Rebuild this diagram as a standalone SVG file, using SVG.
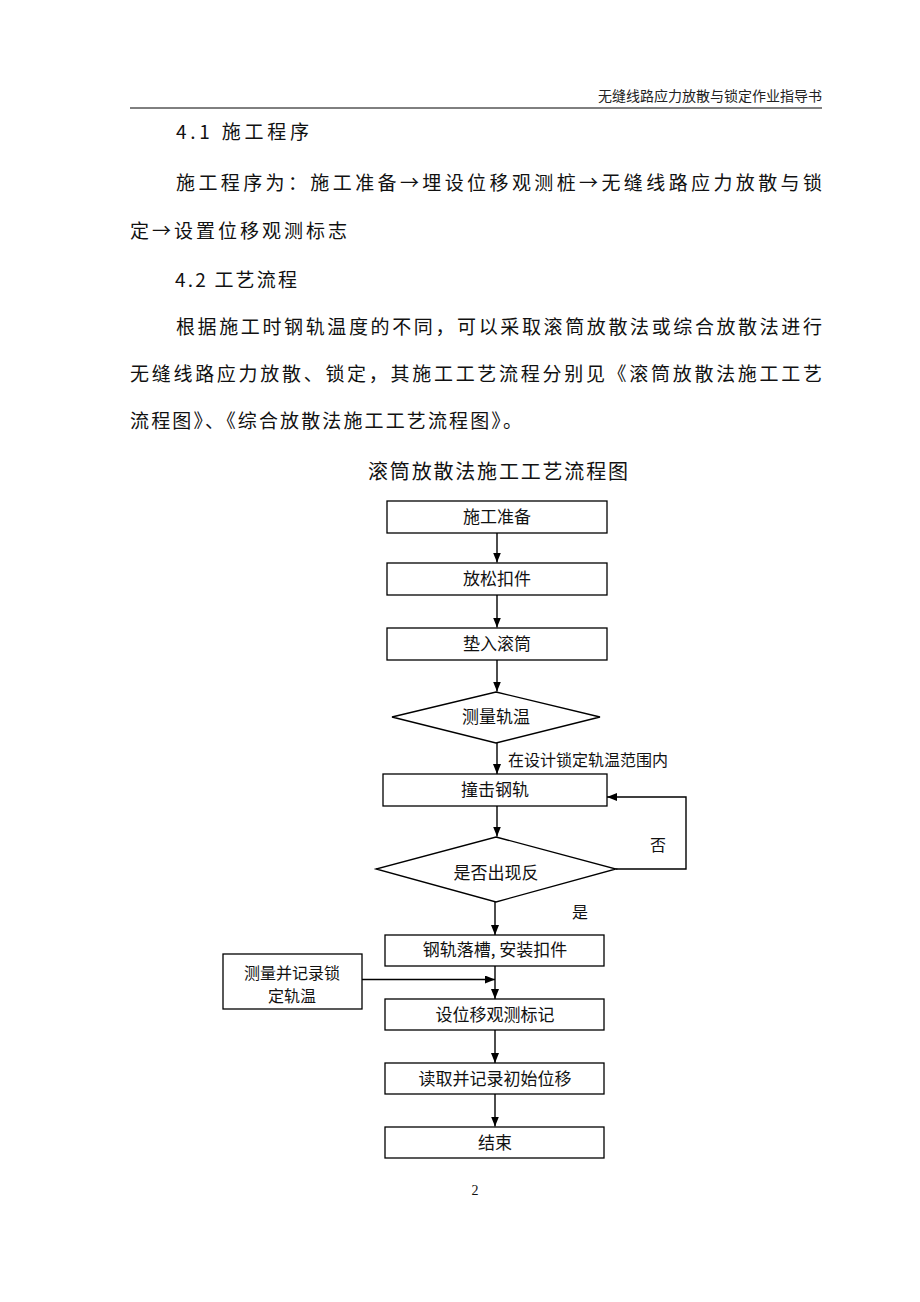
<svg xmlns="http://www.w3.org/2000/svg" width="920" height="1302" viewBox="0 0 920 1302">
<defs>
<style>
.t{font-family:"Noto Sans CJK SC","Liberation Serif",serif;fill:#111;}
.body{font-size:19px;}
.hdr{font-size:14px;fill:#222;}
.box{fill:#fff;stroke:#000;stroke-width:1.3;}
.bt{font-size:17px;text-anchor:middle;}
.con{fill:none;stroke:#000;stroke-width:1.4;}
</style>
<marker id="ah" markerWidth="10" markerHeight="8" refX="10" refY="4" orient="auto" markerUnits="userSpaceOnUse">
<path d="M0,0 L10,4 L0,8 z" fill="#000"/>
</marker>
</defs>
<rect width="920" height="1302" fill="#fff"/>
<g id="header">
<text class="t hdr" x="822" y="101" text-anchor="end">无缝线路应力放散与锁定作业指导书</text>
<line x1="130" y1="108" x2="822" y2="108" stroke="#000" stroke-width="1"/>
</g>
<g id="bodytext">
<text class="t body" x="176" y="139" textLength="133" lengthAdjust="spacing">4.1 施工程序</text>
<text class="t body" x="176" y="190" textLength="646" lengthAdjust="spacing">施工程序为：施工准备→埋设位移观测桩→无缝线路应力放散与锁</text>
<text class="t body" x="130" y="238" textLength="217" lengthAdjust="spacing">定→设置位移观测标志</text>
<text class="t body" x="175" y="287" textLength="122" lengthAdjust="spacing">4.2 工艺流程</text>
<text class="t body" x="176" y="334" textLength="646" lengthAdjust="spacing">根据施工时钢轨温度的不同，可以采取滚筒放散法或综合放散法进行</text>
<text class="t body" x="130" y="381" textLength="692" lengthAdjust="spacing">无缝线路应力放散、锁定，其施工工艺流程分别见《滚筒放散法施工工艺</text>
<text class="t body" x="130" y="428" textLength="392" lengthAdjust="spacing">流程图》、《综合放散法施工工艺流程图》。</text>
<text class="t" x="498" y="479" font-size="20" text-anchor="middle" textLength="260" lengthAdjust="spacing">滚筒放散法施工工艺流程图</text>
</g>
<g id="connectors">
<line class="con" x1="497" y1="533" x2="497" y2="562.5" marker-end="url(#ah)"/>
<line class="con" x1="497" y1="595" x2="497" y2="627.5" marker-end="url(#ah)"/>
<line class="con" x1="497" y1="660" x2="497" y2="691.5" marker-end="url(#ah)"/>
<line class="con" x1="497" y1="743" x2="497" y2="774" marker-end="url(#ah)"/>
<line class="con" x1="497" y1="806" x2="497" y2="836.5" marker-end="url(#ah)"/>
<polyline class="con" points="616,869 686,869 686,797 607,797" marker-end="url(#ah)"/>
<line class="con" x1="495" y1="902" x2="495" y2="935" marker-end="url(#ah)"/>
<line class="con" x1="495" y1="966" x2="495" y2="999" marker-end="url(#ah)"/>
<line class="con" x1="362" y1="979.5" x2="495" y2="979.5" marker-end="url(#ah)"/>
<line class="con" x1="495" y1="1030" x2="495" y2="1063" marker-end="url(#ah)"/>
<line class="con" x1="495" y1="1094" x2="495" y2="1126.5" marker-end="url(#ah)"/>
<text class="t" x="508" y="766" font-size="16">在设计锁定轨温范围内</text>
<text class="t" x="650" y="851" font-size="16">否</text>
<text class="t" x="572" y="918" font-size="16">是</text>
</g>
<g id="n1"><rect class="box" x="387" y="501" width="220" height="32"/><text class="t bt" x="497" y="523">施工准备</text></g>
<g id="n2"><rect class="box" x="387" y="563" width="220" height="32"/><text class="t bt" x="497" y="585">放松扣件</text></g>
<g id="n3"><rect class="box" x="387" y="628" width="220" height="32"/><text class="t bt" x="497" y="650">垫入滚筒</text></g>
<g id="n4"><polygon class="box" points="496,692 600,717 496,743 392,717"/><text class="t bt" x="496" y="723">测量轨温</text></g>
<g id="n5"><rect class="box" x="383" y="774" width="224" height="32"/><text class="t bt" x="495" y="796">撞击钢轨</text></g>
<g id="n6"><polygon class="box" points="496,837 616,869 496,902 376,869"/><text class="t bt" x="496" y="879">是否出现反</text></g>
<g id="n7"><rect class="box" x="385" y="935" width="219" height="31"/><text class="t bt" x="495" y="956">钢轨落槽, 安装扣件</text></g>
<g id="n8"><rect class="box" x="223" y="954" width="139" height="55"/><text class="t" x="292" y="978.5" font-size="16" text-anchor="middle">测量并记录锁</text><text class="t" x="292" y="1002" font-size="16" text-anchor="middle">定轨温</text></g>
<g id="n9"><rect class="box" x="385" y="999" width="219" height="31"/><text class="t bt" x="495" y="1021">设位移观测标记</text></g>
<g id="n10"><rect class="box" x="385" y="1063" width="219" height="31"/><text class="t bt" x="495" y="1085">读取并记录初始位移</text></g>
<g id="n11"><rect class="box" x="385" y="1127" width="219" height="31"/><text class="t bt" x="495" y="1149">结束</text></g>
<g id="footer"><text x="475" y="1195" font-family="Liberation Serif, serif" font-size="14" fill="#111" text-anchor="middle">2</text></g>
</svg>
